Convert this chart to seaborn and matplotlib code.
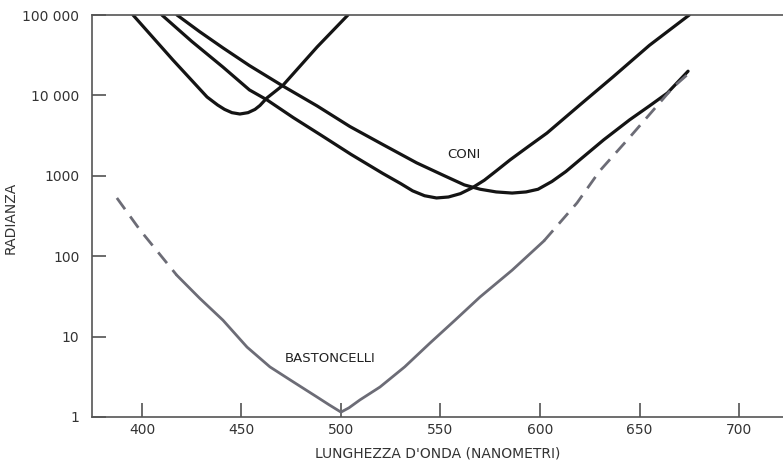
import matplotlib
matplotlib.use("Agg")
import matplotlib.pyplot as plt
import seaborn as sns
from matplotlib.ticker import FixedLocator, FixedFormatter, NullLocator

# Threshold radiance vs wavelength: three cone classes and rods (log scale)
cone_s_nm = [395.5, 415.6, 432.7, 438.0, 441.5, 445.2, 449.2, 453.3, 456.8, 459.3,
             462.8, 470.9, 488.0, 503.5]
cone_s_rad = [100000, 27500, 9560, 7600, 6700, 6100, 5870, 6100, 6700, 7500,
              9300, 13400, 40000, 100000]

cone_m_nm = [410.0, 425.0, 440.7, 454.0, 462.8, 476.0, 490.0, 505.0, 521.0, 530.0,
             536.0, 542.0, 548.0, 554.0, 560.0, 566.0, 572.0, 578.0, 585.0, 594.0,
             603.5, 620.0, 636.7, 655.0, 675.0]
cone_m_rad = [100000, 47000, 22500, 11700, 8800, 5300, 3200, 1850, 1070, 800,
              650, 565, 530, 545, 600, 710, 880, 1150, 1580, 2300,
              3400, 7600, 17000, 42000, 100000]

cone_l_nm = [417.6, 429.0, 440.7, 454.0, 471.0, 488.0, 504.5, 521.0, 538.0, 552.0,
             562.0, 570.0, 578.0, 586.0, 593.0, 599.0, 606.0, 613.0, 620.0, 632.0,
             645.0, 655.0, 664.0, 674.4]
cone_l_rad = [100000, 62000, 39000, 23500, 13000, 7400, 4100, 2450, 1450, 1000,
              770, 680, 630, 610, 630, 680, 850, 1130, 1580, 2800,
              4960, 7400, 10700, 20000]

rod_dash_left_nm = [387.4, 399.0, 417.5]
rod_dash_left_rad = [530, 212, 58]
rod_solid_nm = [417.5, 429.0, 440.7, 452.8, 464.3, 474.4, 482.0, 488.0, 494.0, 500.0,
                504.0, 509.5, 519.6, 532.0, 544.7, 557.3, 569.8, 586.0, 602.0]
rod_solid_rad = [58, 30, 16, 7.4, 4.2, 2.9, 2.2, 1.77, 1.42, 1.15,
                 1.3, 1.63, 2.36, 4.2, 8.3, 16, 31, 67, 155]
rod_dash_right_nm = [602.0, 618.6, 630.0, 645.0, 667.0, 675.0]
rod_dash_right_rad = [155, 460, 1150, 3000, 12700, 19000]

y_ticks = [1, 10, 100, 1000, 10000, 100000]
y_tick_labels = ["1", "10", "100", "1000", "10 000", "100 000"]
x_ticks = [400, 450, 500, 550, 600, 650, 700]

sns.set_theme(style="ticks")
plt.rcParams["font.family"] = ["DejaVu Sans"]

fig = plt.figure(figsize=(7.83, 4.62), dpi=100)
ax = fig.add_axes([92 / 783, 1 - 417 / 462, 1 - 92 / 783, (417 - 15) / 462])

cone_color = "#141414"
rod_color = "#6c6c76"

for xs, ys in [(cone_s_nm, cone_s_rad), (cone_m_nm, cone_m_rad), (cone_l_nm, cone_l_rad)]:
    sns.lineplot(x=xs, y=ys, ax=ax, color=cone_color, linewidth=2.3,
                 sort=False, estimator=None, solid_capstyle="round", solid_joinstyle="round")

sns.lineplot(x=rod_solid_nm, y=rod_solid_rad, ax=ax, color=rod_color, linewidth=2.0,
             sort=False, estimator=None, solid_joinstyle="round")
for xs, ys in [(rod_dash_left_nm, rod_dash_left_rad), (rod_dash_right_nm, rod_dash_right_rad)]:
    sns.lineplot(x=xs, y=ys, ax=ax, color=rod_color, linewidth=2.0,
                 sort=False, estimator=None, linestyle=(0, (5, 3.2)))

ax.set_yscale("log")
ax.set_xlim(374.9, 722.1)
ax.set_ylim(1, 100000)

ax.yaxis.set_major_locator(FixedLocator(y_ticks))
ax.yaxis.set_major_formatter(FixedFormatter(y_tick_labels))
ax.yaxis.set_minor_locator(NullLocator())
ax.xaxis.set_major_locator(FixedLocator(x_ticks))

spine_color = "#555555"
for side in ["left", "bottom", "top"]:
    ax.spines[side].set_color(spine_color)
    ax.spines[side].set_linewidth(1.2)
ax.spines["right"].set_visible(False)

ax.tick_params(axis="both", which="major", direction="in", length=10, width=1.1,
               color="#444444", labelcolor="#333333", labelsize=10)
ax.tick_params(axis="y", pad=9)
ax.tick_params(axis="x", pad=4)

ax.set_xlabel("LUNGHEZZA D'ONDA (NANOMETRI)", fontsize=10, color="#333333", labelpad=7)
ax.set_ylabel("RADIANZA", fontsize=10, color="#333333")
ax.yaxis.set_label_coords((18 - 92) / (783 - 92), (417 - 218) / (417 - 15))

ax.text(562, 1820, "CONI", fontsize=9.5, color="#222222", ha="center", va="center")
ax.text(494.5, 5.4, "BASTONCELLI", fontsize=9.5, color="#222222", ha="center", va="center")

ax.grid(False)
fig.savefig("out.png", dpi=100, facecolor="white")
